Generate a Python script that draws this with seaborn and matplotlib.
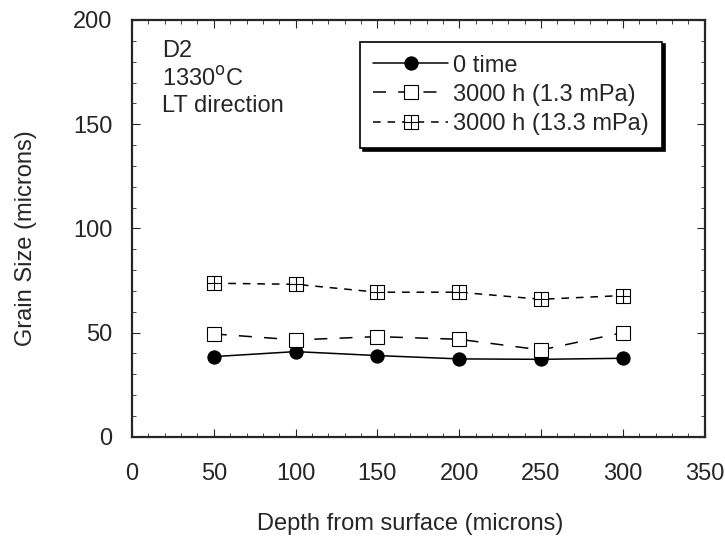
import numpy as np
import pandas as pd
import matplotlib
matplotlib.use("Agg")
import matplotlib.pyplot as plt
from matplotlib.path import Path
from matplotlib.ticker import MultipleLocator
import seaborn as sns

depth = [50, 100, 150, 200, 250, 300]
size_0h = [38.5, 40.9, 39.0, 37.4, 37.2, 37.7]
size_3000h_low = [49.4, 46.5, 48.1, 46.8, 41.7, 50.0]
size_3000h_high = [73.7, 73.2, 69.4, 69.4, 66.0, 67.8]
series_names = ["0 time", "3000 h (1.3 mPa)", "3000 h (13.3 mPa)"]

df = pd.DataFrame({
    "depth": depth * 3,
    "size": size_0h + size_3000h_low + size_3000h_high,
    "series": [series_names[0]] * 6 + [series_names[1]] * 6 + [series_names[2]] * 6,
})

sns.set_style("ticks")
plt.rcParams["font.family"] = ["Liberation Sans", "DejaVu Sans"]
FS = 17

# square with a cross inside
crossed_square = Path(
    [(-1, -1), (1, -1), (1, 1), (-1, 1), (-1, -1), (0, -1), (0, 1), (-1, 0), (1, 0)],
    [Path.MOVETO, Path.LINETO, Path.LINETO, Path.LINETO, Path.CLOSEPOLY,
     Path.MOVETO, Path.LINETO, Path.MOVETO, Path.LINETO],
)

fig = plt.figure(figsize=(7.25, 5.4), dpi=100)
ax = fig.add_axes([0.182, 0.191, 0.79, 0.772])

sns.lineplot(
    data=df, x="depth", y="size", hue="series", style="series",
    palette=["black"] * 3,
    dashes={series_names[0]: "", series_names[1]: (8.5, 8), series_names[2]: (5, 4.5)},
    markers={series_names[0]: "o", series_names[1]: "s", series_names[2]: crossed_square},
    markersize=9.5, linewidth=1.1, markeredgewidth=0.8, ax=ax, legend=False,
)
for line in ax.lines:
    if line.get_marker() != "o":
        line.set_markerfacecolor("white")
        line.set_markeredgecolor("black")
    else:
        line.set_markerfacecolor("black")
        line.set_markeredgecolor("black")

handles = ax.lines[:3]
leg = ax.legend(
    handles, series_names, loc="upper left", bbox_to_anchor=(0.398, 0.948),
    frameon=True, fancybox=False, shadow={"color": "black", "alpha": 1.0},
    fontsize=FS, handlelength=3.2, handletextpad=0.2, borderpad=0.55,
    labelspacing=0.3, borderaxespad=0.0, edgecolor="black",
)
leg.get_frame().set_linewidth(1.2)

ax.set_xlim(0, 350)
ax.set_ylim(0, 200)
ax.xaxis.set_major_locator(MultipleLocator(50))
ax.xaxis.set_minor_locator(MultipleLocator(10))
ax.yaxis.set_major_locator(MultipleLocator(50))
ax.yaxis.set_minor_locator(MultipleLocator(10))
ax.tick_params(which="both", direction="in", top=True, right=True, labelsize=FS)
ax.tick_params(axis="x", which="major", pad=19)
ax.tick_params(axis="y", which="major", pad=14)
ax.tick_params(which="major", length=6)
ax.tick_params(which="minor", length=3)
for s in ax.spines.values():
    s.set_linewidth(1.6)

ax.set_xlabel("Depth from surface (microns)", fontsize=FS, labelpad=20)
ax.set_ylabel("Grain Size (microns)", fontsize=FS, labelpad=26)
ax.xaxis.label.set_x(0.485)
ax.yaxis.label.set_y(0.477)

ax.text(0.052, 0.952, "D2\n1330$^{\\rm o}$C\nLT direction", transform=ax.transAxes,
        ha="left", va="top", fontsize=FS, linespacing=1.25)

fig.savefig("out.png", dpi=100)
